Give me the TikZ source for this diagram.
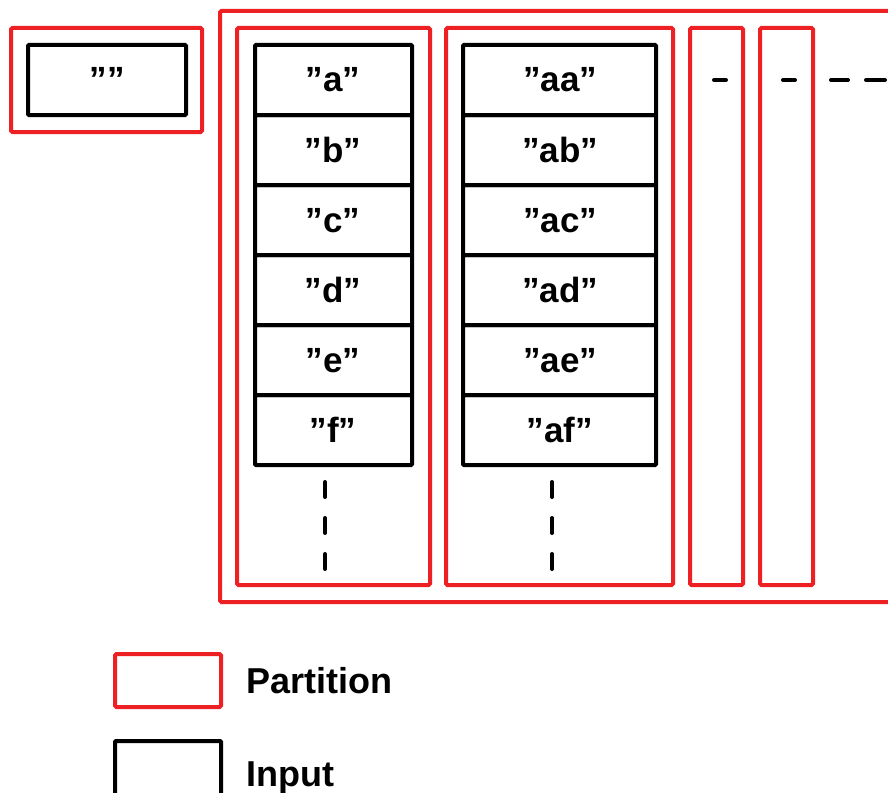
\documentclass[tikz,border=0pt]{standalone}
\usepackage{fontspec}
\setmainfont{Liberation Sans}
\definecolor{partred}{RGB}{237,32,36}
\begin{document}
\begin{tikzpicture}[x=1pt,y=-1pt,
  partbox/.style={draw=partred,line width=4pt,rounded corners=1.5pt,rectangle,inner sep=0pt},
  cellbox/.style={draw=black,line width=4pt,rounded corners=1pt,rectangle,inner sep=0pt},
  celltext/.style={font=\fontsize{35}{35}\selectfont\bfseries,anchor=base,inner sep=0pt},
  legendtext/.style={font=\fontsize{36}{36}\selectfont\bfseries,anchor=base west,inner sep=0pt},
  gapdash/.style={line width=4pt,line cap=round}]
\useasboundingbox (0,0) rectangle (888,792);
\clip (0,0) rectangle (888,792);

% single empty-string partition
\node[partbox,minimum width=191pt,minimum height=104pt] (p0) at (106.5,80) {};
\node[cellbox,minimum width=158pt,minimum height=70pt] (e0) at (107,80) {};
\node[celltext] (t0) at (107,92) {””};

% enclosing partition, open to the right
\draw[draw=partred,line width=4pt,rounded corners=1.5pt]
  (900,11) -- (220,11) -- (220,602) -- (900,602);

% partitions holding the input columns
\node[partbox,minimum width=193pt,minimum height=557pt] (p1) at (333.5,306.5) {};
\node[partbox,minimum width=227pt,minimum height=557pt] (p2) at (559.5,306.5) {};
\node[partbox,minimum width=53pt,minimum height=557pt] (p3) at (716.5,306.5) {};
\node[partbox,minimum width=53pt,minimum height=557pt] (p4) at (786.5,306.5) {};

% input columns
\foreach \lab [count=\k from 0] in {a,b,c,d,e,f}{
  \node[cellbox,minimum width=157pt,minimum height=70pt] (a\k) at (333.5,80+70*\k) {};
  \node[celltext] (ta\k) at (333,92+70*\k) {”\lab”};
  \node[cellbox,minimum width=193pt,minimum height=70pt] (b\k) at (559.5,80+70*\k) {};
  \node[celltext] (tb\k) at (560,92+70*\k) {”a\lab”};
}

% continuation marks
\draw[gapdash,dash pattern=on 15pt off 21pt] (325,482) -- (325,571);
\draw[gapdash,dash pattern=on 15pt off 21pt] (552,482) -- (552,571);
\draw[gapdash] (714,80) -- (726,80);
\draw[gapdash] (783,80) -- (795,80);
\draw[gapdash] (831,80) -- (848,80);
\draw[gapdash] (866,80) -- (885,80);

% legend
\node[partbox,minimum width=106pt,minimum height=53pt] (lp) at (168,680.5) {};
\node[legendtext] (lpt) at (246,693) {Partition};
\node[cellbox,minimum width=106pt,minimum height=60pt] (li) at (168,771) {};
\node[legendtext] (lit) at (246,786) {Input};
\end{tikzpicture}
\end{document}
